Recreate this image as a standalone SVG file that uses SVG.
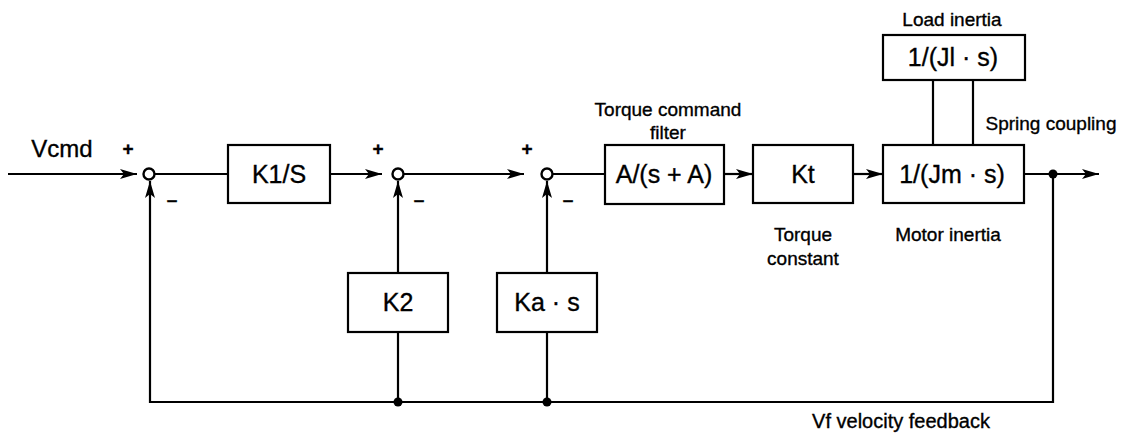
<svg xmlns="http://www.w3.org/2000/svg" width="1127" height="440" viewBox="0 0 1127 440">
<style>
.box{fill:#fff;stroke:#000;stroke-width:2.2}
.ln{fill:none;stroke:#000;stroke-width:2.2}
.sum{fill:#fff;stroke:#000;stroke-width:2.4}
.t{font-family:"Liberation Sans",Arial,sans-serif;fill:#000;stroke:#000;stroke-width:0.35;text-anchor:middle}
.bl{font-size:25px}
.sl{font-size:19px}
.sg{font-size:19px;font-weight:bold}
</style>
<defs>
<marker id="ah" markerWidth="18" markerHeight="12" refX="17" refY="6" orient="auto" markerUnits="userSpaceOnUse">
<path d="M0,1 L17,6 L0,11 L4,6 Z" fill="#000"/>
</marker>
</defs>
<rect width="1127" height="440" fill="#fff"/>
<g id="connectors">
<line class="ln" x1="8" y1="174" x2="137" y2="174" marker-end="url(#ah)"/>
<line class="ln" x1="154" y1="174" x2="228" y2="174"/>
<line class="ln" x1="330" y1="174" x2="382" y2="174" marker-end="url(#ah)"/>
<line class="ln" x1="404" y1="174" x2="524" y2="174" marker-end="url(#ah)"/>
<line class="ln" x1="553" y1="174" x2="605" y2="174"/>
<line class="ln" x1="724" y1="174" x2="753" y2="174" marker-end="url(#ah)"/>
<line class="ln" x1="853" y1="174" x2="883" y2="174" marker-end="url(#ah)"/>
<line class="ln" x1="1024" y1="174" x2="1099" y2="174" marker-end="url(#ah)"/>
<polyline class="ln" points="1053,174 1053,402 150,402 150,181" marker-end="url(#ah)"/>
<line class="ln" x1="398" y1="402" x2="398" y2="332"/>
<line class="ln" x1="398" y1="273" x2="398" y2="181" marker-end="url(#ah)"/>
<line class="ln" x1="547" y1="402" x2="547" y2="332"/>
<line class="ln" x1="547" y1="273" x2="547" y2="181" marker-end="url(#ah)"/>
<line class="ln" x1="933" y1="80" x2="933" y2="145"/>
<line class="ln" x1="973" y1="80" x2="973" y2="145"/>
<circle cx="1053" cy="174" r="4.5" fill="#000"/>
<circle cx="398" cy="402" r="4.5" fill="#000"/>
<circle cx="547" cy="402" r="4.5" fill="#000"/>
</g>
<g id="sum1">
<circle class="sum" cx="149" cy="174" r="5.5"/>
<text class="t sg" x="128" y="155">+</text>
<text class="t sg" x="172" y="206">–</text>
</g>
<g id="sum2">
<circle class="sum" cx="398" cy="174" r="5.5"/>
<text class="t sg" x="378" y="155">+</text>
<text class="t sg" x="419" y="206">–</text>
</g>
<g id="sum3">
<circle class="sum" cx="547" cy="174" r="5.5"/>
<text class="t sg" x="527" y="155">+</text>
<text class="t sg" x="568" y="206">–</text>
</g>
<g id="vcmd"><text class="t" style="font-size:24px" x="62" y="157">Vcmd</text></g>
<g id="k1s"><rect class="box" x="228" y="145" width="102" height="58"/><text class="t bl" x="279" y="183">K1/S</text></g>
<g id="filter"><rect class="box" x="605" y="145" width="119" height="59"/><text class="t bl" x="664" y="183">A/(s + A)</text>
<text class="t sl" x="668" y="116">Torque command</text><text class="t sl" x="668" y="139">filter</text></g>
<g id="kt"><rect class="box" x="753" y="145" width="100" height="58"/><text class="t bl" x="803" y="183">Kt</text>
<text class="t sl" x="803" y="241">Torque</text><text class="t sl" x="803" y="265">constant</text></g>
<g id="motor"><rect class="box" x="883" y="145" width="141" height="58"/><text class="t bl" x="952" y="183">1/(Jm · s)</text>
<text class="t sl" x="948" y="241">Motor inertia</text></g>
<g id="load"><rect class="box" x="883" y="35" width="142" height="45"/><text class="t bl" x="953" y="66">1/(Jl · s)</text>
<text class="t sl" x="952" y="26">Load inertia</text></g>
<g id="spring"><text class="t sl" x="1051" y="130">Spring coupling</text></g>
<g id="k2"><rect class="box" x="348" y="273" width="100" height="59"/><text class="t bl" x="398" y="311">K2</text></g>
<g id="kas"><rect class="box" x="497" y="273" width="100" height="59"/><text class="t bl" x="547" y="311">Ka · s</text></g>
<g id="vf"><text class="t" style="font-size:20px" x="901" y="428">Vf velocity feedback</text></g>
</svg>
